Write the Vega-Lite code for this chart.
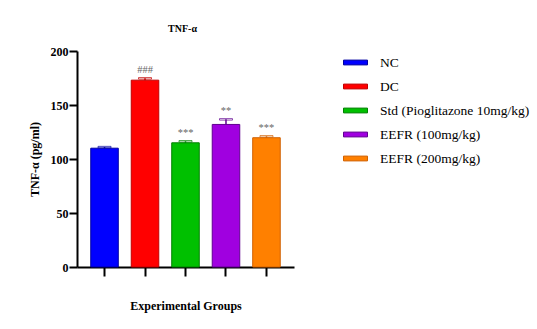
{
  "$schema": "https://vega.github.io/schema/vega-lite/v6.json",
  "autosize": {"type": "none"},
  "width": 217,
  "height": 216,
  "padding": {"left": 77, "top": 51, "right": 243, "bottom": 62},
  "background": "white",
  "config": {
    "font": "Liberation Serif",
    "view": {"stroke": null}
  },
  "title": {
    "text": "TNF-α",
    "font": "Liberation Serif",
    "fontSize": 10,
    "fontWeight": "bold",
    "color": "black",
    "anchor": "middle",
    "dx": -3,
    "offset": 11
  },
  "data": {
    "values": [
      {"group": "NC", "value": 110, "upper": 111, "sig": ""},
      {"group": "DC", "value": 173, "upper": 174.7, "sig": "###"},
      {"group": "Std (Pioglitazone 10mg/kg)", "value": 115, "upper": 116.4, "sig": "***"},
      {"group": "EEFR (100mg/kg)", "value": 132, "upper": 136.7, "sig": "**"},
      {"group": "EEFR  (200mg/kg)", "value": 119.7, "upper": 121, "sig": "***"}
    ]
  },
  "encoding": {
    "x": {
      "field": "group",
      "type": "nominal",
      "sort": null,
      "scale": {"paddingInner": 0.32, "paddingOuter": 0.34},
      "axis": {
        "labels": false,
        "title": "Experimental Groups",
        "titleFont": "Liberation Serif",
        "titleFontSize": 12,
        "titleFontWeight": "bold",
        "titleColor": "black",
        "titlePadding": 23,
        "tickSize": 9,
        "tickWidth": 2,
        "tickColor": "black",
        "domainWidth": 2,
        "domainColor": "black"
      }
    }
  },
  "layer": [
    {
      "mark": {"type": "bar", "strokeWidth": 1},
      "encoding": {
        "y": {
          "field": "value",
          "type": "quantitative",
          "scale": {"domain": [0, 200], "nice": false},
          "axis": {
            "values": [0, 50, 100, 150, 200],
            "grid": false,
            "title": "TNF-α (pg/ml)",
            "titleFont": "Liberation Serif",
            "titleFontSize": 12,
            "titleFontWeight": "bold",
            "titleColor": "black",
            "titlePadding": 9,
            "labelFont": "Liberation Serif",
            "labelFontSize": 12,
            "labelFontWeight": "bold",
            "labelColor": "black",
            "labelPadding": 1,
            "tickSize": 8,
            "tickWidth": 2,
            "tickColor": "black",
            "domainWidth": 2,
            "domainColor": "black"
          }
        },
        "fill": {
          "field": "group",
          "type": "nominal",
          "sort": null,
          "scale": {
            "domain": ["NC", "DC", "Std (Pioglitazone 10mg/kg)", "EEFR (100mg/kg)", "EEFR  (200mg/kg)"],
            "range": ["#0000ff", "#ff0000", "#00c000", "#a000e0", "#ff8000"]
          },
          "legend": {
            "title": null,
            "orient": "none",
            "legendX": 266,
            "legendY": -1,
            "symbolType": "M-1,-0.2H1V0.2H-1Z",
            "symbolSize": 576,
            "symbolStrokeWidth": 1,
            "labelFont": "Liberation Serif",
            "labelFontSize": 13.5,
            "labelColor": "black",
            "labelOffset": 12,
            "rowPadding": 5,
            "padding": 0
          }
        },
        "stroke": {
          "field": "group",
          "type": "nominal",
          "sort": null,
          "scale": {
            "domain": ["NC", "DC", "Std (Pioglitazone 10mg/kg)", "EEFR (100mg/kg)", "EEFR  (200mg/kg)"],
            "range": ["#0000a0", "#c00000", "#008000", "#600090", "#d06000"]
          },
          "legend": null
        }
      }
    },
    {
      "mark": {"type": "rule", "strokeWidth": 1.5},
      "encoding": {
        "y": {"field": "value", "type": "quantitative"},
        "y2": {"field": "upper"},
        "stroke": {"field": "group", "type": "nominal", "sort": null, "legend": null}
      }
    },
    {
      "mark": {"type": "tick", "thickness": 1.5, "size": 13},
      "encoding": {
        "y": {"field": "upper", "type": "quantitative"},
        "color": {"value": null},
        "stroke": {"field": "group", "type": "nominal", "sort": null, "legend": null}
      }
    },
    {
      "mark": {"type": "text", "baseline": "bottom", "dy": -3, "fontSize": 10.5, "color": "#666666", "font": "Liberation Serif"},
      "encoding": {
        "y": {"field": "upper", "type": "quantitative"},
        "text": {"field": "sig"}
      }
    }
  ]
}
